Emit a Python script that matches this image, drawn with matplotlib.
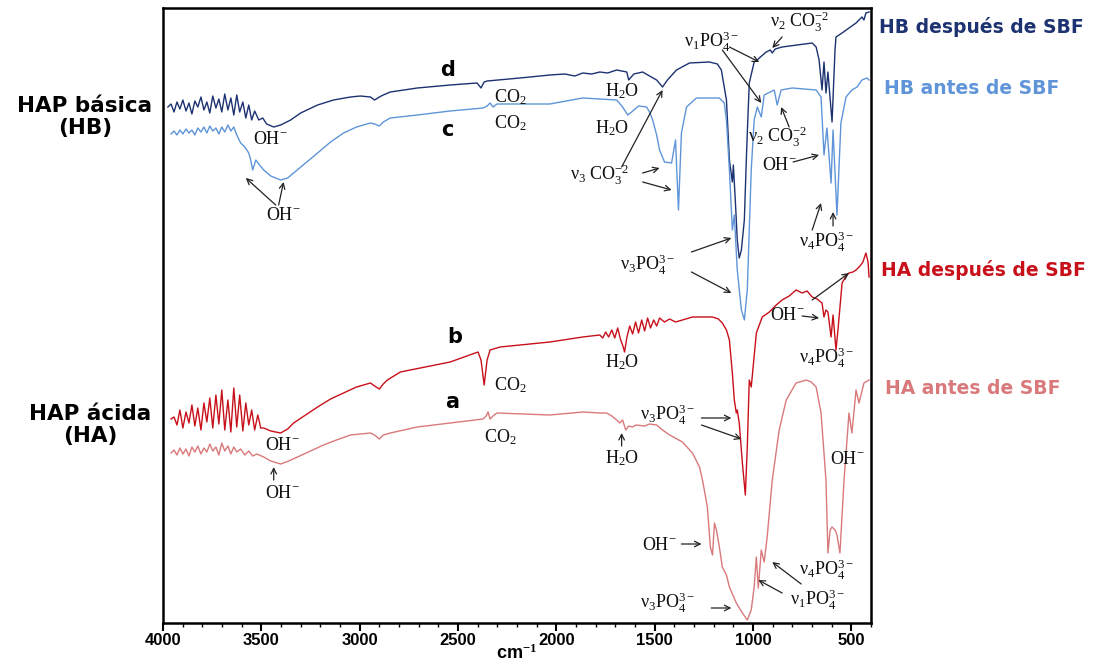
import numpy as np
import matplotlib
matplotlib.use("Agg")
import matplotlib.pyplot as plt

plt.rcParams['mathtext.fontset'] = 'custom'
plt.rcParams['mathtext.rm'] = 'Liberation Serif'
plt.rcParams['mathtext.it'] = 'Liberation Serif:italic'
plt.rcParams['mathtext.bf'] = 'Liberation Serif:bold'

# ---- spectra (wavenumber cm-1, offset transmittance a.u.) ----
hb_desp_wn = [3975, 3959, 3944, 3929, 3914, 3899, 3883, 3868, 3853, 3838, 3823, 3807, 3792, 3777,
              3762, 3747, 3731, 3716, 3701, 3686, 3670, 3655, 3640, 3625, 3610, 3594, 3579, 3564,
              3549, 3534, 3513, 3493, 3473, 3437, 3402, 3351, 3300, 3214, 3133, 3047, 2996, 2945,
              2924, 2900, 2880, 2844, 2707, 2540, 2403, 2383, 2367, 2352, 2185, 2033, 1957, 1906,
              1866, 1820, 1779, 1739, 1693, 1668, 1642, 1632, 1606, 1561, 1526, 1490, 1460, 1435,
              1389, 1323, 1222, 1181, 1161, 1135, 1120, 1105, 1100, 1090, 1080, 1070, 1059, 1044,
              1034, 1029, 1019, 994, 978, 968, 933, 912, 902, 887, 852, 699, 679, 664, 649, 639,
              629, 619, 598, 583, 578, 547, 512, 476, 446, 436, 426, 410]
hb_desp_t = [516, 519, 511, 521, 514, 523, 512, 520, 509, 522, 516, 526, 513, 521,
             510, 527, 515, 524, 511, 529, 513, 525, 508, 528, 511, 521, 505, 518,
             503, 512, 503, 505, 499, 496, 498, 503, 510, 518, 523, 526, 527, 526,
             523, 526, 528, 531, 535, 538, 540, 535, 541, 542, 545, 548, 549, 547,
             550, 549, 551, 550, 553, 552, 551, 543, 549, 551, 547, 543, 536, 543,
             553, 560, 561, 559, 553, 523, 463, 441, 458, 423, 383, 365, 373, 403,
             463, 490, 540, 561, 563, 565, 571, 573, 570, 574, 576, 580, 576, 563, 533, 561,
             530, 551, 501, 573, 586, 590, 595, 600, 606, 603, 610, 611]

hb_antes_wn = [3959, 3944, 3929, 3914, 3899, 3883, 3868, 3853, 3838, 3823, 3807, 3792, 3777, 3762,
               3747, 3731, 3716, 3701, 3686, 3670, 3655, 3640, 3625, 3605, 3584, 3564, 3554, 3544,
               3528, 3513, 3488, 3452, 3402, 3366, 3336, 3275, 3214, 3148, 3082, 3016, 2945, 2924,
               2900, 2880, 2844, 2707, 2540, 2373, 2352, 2337, 2322, 2302, 2033, 1866, 1779, 1693,
               1663, 1637, 1617, 1606, 1581, 1541, 1526, 1510, 1490, 1475, 1450, 1414, 1394, 1379,
               1364, 1338, 1288, 1171, 1146, 1135, 1120, 1105, 1095, 1080, 1059, 1044, 1029, 1019,
               1009, 994, 978, 958, 943, 892, 877, 857, 801, 679, 654, 639, 624, 603, 593, 573,
               553, 527, 497, 471, 446, 420, 410]
hb_antes_t = [489, 492, 488, 493, 489, 494, 490, 493, 488, 495, 491, 496, 490, 497,
              492, 495, 489, 496, 491, 498, 492, 496, 488, 480, 476, 470, 463, 453,
              463, 459, 453, 447, 443, 445, 450, 460, 470, 481, 490, 496, 500, 499,
              497, 501, 505, 508, 512, 515, 517, 520, 516, 519, 519, 525, 524, 523,
              516, 508, 511, 513, 517, 516, 511, 503, 488, 473, 461, 460, 483, 413,
              490, 516, 525, 525, 520, 503, 453, 393, 408, 353, 313, 303, 333, 393,
              453, 503, 516, 506, 528, 533, 518, 533, 535, 533, 526, 468, 495, 440, 493, 408,
              500, 526, 533, 536, 543, 545, 543]

ha_desp_wn = [3959, 3944, 3929, 3914, 3899, 3883, 3868, 3853, 3838, 3823, 3807, 3792, 3777, 3762,
              3747, 3731, 3716, 3701, 3686, 3670, 3655, 3640, 3625, 3610, 3594, 3579, 3564, 3549,
              3534, 3518, 3503, 3488, 3452, 3402, 3366, 3336, 3275, 3214, 3148, 3082, 3016, 2945,
              2924, 2900, 2880, 2859, 2793, 2540, 2398, 2383, 2367, 2352, 2337, 2286, 2033, 1866,
              1779, 1764, 1749, 1734, 1718, 1703, 1688, 1673, 1663, 1653, 1642, 1627, 1612, 1597,
              1582, 1566, 1551, 1536, 1521, 1505, 1490, 1475, 1450, 1424, 1394, 1359, 1308, 1206,
              1176, 1156, 1135, 1120, 1105, 1095, 1085, 1080, 1070, 1054, 1039, 1029, 1019, 1009,
              983, 953, 917, 882, 852, 816, 781, 750, 725, 699, 674, 649, 639, 629, 619, 603,
              593, 578, 568, 547, 527, 512, 492, 476, 456, 441, 426, 415, 410]
ha_desp_t = [204, 206, 198, 213, 195, 211, 200, 218, 197, 215, 193, 220, 201, 225,
             195, 228, 199, 233, 193, 223, 191, 235, 196, 228, 192, 220, 198, 213,
             193, 208, 195, 195, 192, 190, 194, 200, 208, 216, 224, 230, 236, 240,
             237, 234, 239, 243, 251, 261, 271, 263, 238, 263, 273, 276, 281, 286,
             288, 285, 291, 286, 293, 285, 295, 283, 278, 271, 285, 297, 289, 301,
             290, 303, 292, 305, 295, 303, 297, 305, 301, 304, 301, 303, 306, 306,
             304, 300, 293, 283, 250, 223, 210, 213, 200, 160, 128, 176, 243, 236,
             290, 306, 311, 318, 323, 327, 333, 330, 332, 326, 324, 320, 306, 313, 311, 286,
             308, 273, 293, 340, 347, 350, 351, 353, 357, 361, 370, 361, 346]

ha_antes_wn = [3959, 3944, 3929, 3914, 3899, 3883, 3868, 3853, 3838, 3823, 3807, 3792, 3777, 3762,
               3747, 3731, 3716, 3701, 3686, 3670, 3655, 3640, 3625, 3605, 3584, 3564, 3544, 3523,
               3488, 3452, 3402, 3361, 3316, 3250, 3184, 3118, 3047, 2996, 2945, 2924, 2900, 2880,
               2844, 2707, 2540, 2373, 2357, 2347, 2337, 2322, 2302, 2033, 1866, 1779, 1744, 1718,
               1693, 1678, 1663, 1647, 1632, 1612, 1596, 1551, 1526, 1490, 1460, 1424, 1359, 1308,
               1272, 1257, 1232, 1217, 1206, 1196, 1186, 1171, 1156, 1135, 1120, 1085, 1054, 1029,
               1009, 994, 983, 973, 958, 943, 928, 902, 867, 831, 781, 730, 704, 679, 654, 629,
               619, 608, 598, 583, 573, 558, 537, 512, 497, 476, 461, 436, 410]
ha_antes_t = [170, 173, 168, 175, 169, 174, 167, 176, 171, 177, 169, 175, 171, 179,
              172, 176, 168, 180, 172, 177, 169, 176, 171, 174, 168, 172, 167, 169,
              166, 162, 159, 162, 166, 172, 178, 183, 188, 189, 190, 188, 184, 188,
              190, 196, 200, 204, 207, 211, 204, 207, 210, 208, 211, 210, 210, 207,
              203, 200, 203, 193, 197, 196, 198, 197, 199, 198, 193, 188, 181, 170,
              156, 143, 116, 76, 68, 100, 93, 76, 56, 48, 36, 20, 10, 3,
              13, 36, 66, 35, 73, 61, 86, 143, 193, 223, 240, 243, 241, 236, 210, 143,
              70, 93, 96, 93, 88, 70, 143, 210, 190, 233, 220, 240, 243]

series_names = ["HB después de SBF", "HB antes de SBF", "HA después de SBF", "HA antes de SBF"]
series_colors = ["#1c3271", "#5f95d8", "#c8101a", "#d9797b"]
series_x = [hb_desp_wn, hb_antes_wn, ha_desp_wn, ha_antes_wn]
series_y = [hb_desp_t, hb_antes_t, ha_desp_t, ha_antes_t]
xticks = [4000, 3500, 3000, 2500, 2000, 1500, 1000, 500]

fig = plt.figure(figsize=(11.11, 6.66), dpi=100)
ax = fig.add_axes([163 / 1111, 1 - 623 / 666, (871 - 163) / 1111, (623 - 8) / 666])

for xs, ys, col in zip(series_x, series_y, series_colors):
    ax.plot(xs, ys, color=col, lw=1.0)

ax.set_xlim(4000, 400)
ax.set_ylim(0, 615)
ax.set_yticks([])
ax.set_xticks(xticks)
ax.set_xticks(np.arange(4000, 399, -100), minor=True)
ax.tick_params(axis='x', which='major', direction='out', length=6, width=1.5, pad=1)
ax.tick_params(axis='x', which='minor', direction='out', length=3, width=1)
for lab in ax.get_xticklabels():
    lab.set_fontfamily('Liberation Sans')
    lab.set_fontweight('bold')
    lab.set_fontsize(12)
for sp in ax.spines.values():
    sp.set_linewidth(1.8)
ax.set_xlabel('cm$^{\\mathbf{-1}}$', fontfamily='Liberation Sans', fontweight='bold', fontsize=13,
              labelpad=-3)

# curve letters
for s, x, y in [('d', 2555, 553), ('c', 2555, 493), ('b', 2514, 286), ('a', 2530, 221)]:
    ax.text(x, y, s, fontfamily='DejaVu Sans', fontweight='bold', fontsize=15,
            ha='center', va='center')

serif = dict(fontfamily='Liberation Serif', fontsize=13, ha='center', va='center', color='#111111')
arrow = dict(arrowstyle='->', lw=0.9, color='#222222', shrinkA=0, shrinkB=0)

OH = 'OH$^{-}$'
CO2 = 'CO$_2$'
H2O = 'H$_2$O'
v3PO4 = 'ν$_3$PO$_4^{3-}$'
v4PO4 = 'ν$_4$PO$_4^{3-}$'
v1PO4 = 'ν$_1$PO$_4^{3-}$'
v2CO3 = 'ν$_2$ CO$_3^{-2}$'
v3CO3 = 'ν$_3$ CO$_3^{-2}$'

labels = [
    (OH, 3452, 483), (OH, 3387, 408), (CO2, 2236, 526), (CO2, 2236, 500),
    (H2O, 1668, 532), (H2O, 1718, 495), (v3CO3, 1779, 448), (v1PO4, 1212, 581),
    (v2CO3, 765, 601), (v2CO3, 877, 486), (OH, 867, 457), (v4PO4, 628, 381),
    (v3PO4, 1536, 358), (H2O, 1668, 261), (CO2, 2236, 238), (OH, 826, 307),
    (v4PO4, 628, 265), (OH, 3392, 178), (CO2, 2286, 186), (OH, 3392, 130),
    (H2O, 1668, 165), (v3PO4, 1435, 208), (OH, 1475, 78), (v3PO4, 1435, 20),
    (v4PO4, 628, 53), (v1PO4, 674, 23), (OH, 522, 163),
]
for s, x, y in labels:
    ax.text(x, y, s, **serif)

arrows = [
    ((3427, 418), (3579, 445)), ((3412, 418), (3387, 441)),
    ((1561, 450), (1475, 455)), ((1561, 441), (1414, 433)), ((1668, 456), (1460, 533)),
    ((1120, 576), (968, 561)), ((1156, 573), (958, 520)),
    ((852, 586), (902, 575)), ((816, 496), (857, 516)), ((796, 461), (664, 468)),
    ((699, 393), (654, 420)), ((593, 397), (593, 411)),
    ((1313, 371), (1110, 385)), ((1313, 351), (1110, 330)),
    ((750, 307), (664, 305)), ((699, 323), (512, 350)),
    ((3437, 143), (3437, 156)), ((1668, 177), (1668, 190)),
    ((1262, 205), (1110, 205)), ((1262, 198), (1059, 184)),
    ((1364, 79), (1262, 79)), ((1212, 15), (1110, 15)),
    ((755, 39), (902, 61)), ((852, 30), (973, 43)),
]
for (x0, y0), (x1, y1) in arrows:
    ax.annotate('', xy=(x1, y1), xytext=(x0, y0), arrowprops=arrow)

# series names on the right
name_pos = [(879, 27), (884, 88), (881, 270), (885, 388)]
for name, col, (px, py) in zip(series_names, series_colors, name_pos):
    fig.text(px / 1111, 1 - py / 666, name, color=col, fontfamily='DejaVu Sans',
             fontweight='bold', fontsize=13.5, ha='left', va='center')

fig.text(85 / 1111, 1 - 117 / 666, 'HAP básica\n(HB)', fontfamily='DejaVu Sans', fontweight='bold',
         fontsize=15.5, ha='center', va='center', linespacing=1.1)
fig.text(90 / 1111, 1 - 425 / 666, 'HAP ácida\n(HA)', fontfamily='DejaVu Sans', fontweight='bold',
         fontsize=15.5, ha='center', va='center', linespacing=1.1)

fig.savefig('out.png', dpi=100)
